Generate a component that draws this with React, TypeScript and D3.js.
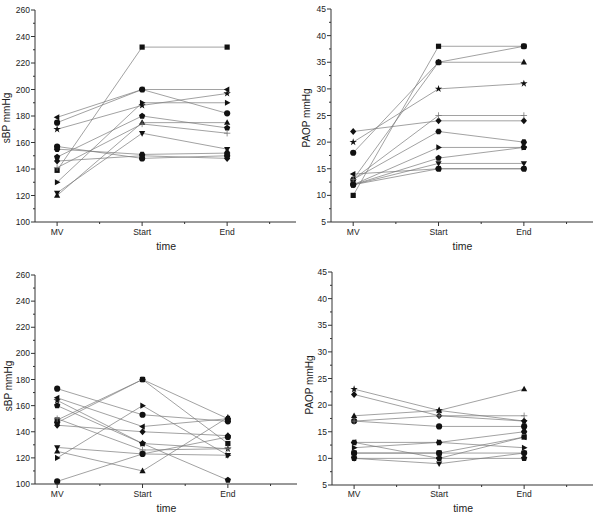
import React from "react";
import * as d3 from "d3";

// ---- data ----
const timeLabels = ["MV", "Start", "End"];
const markerShapes = ["square", "circle", "triUp", "triDown", "diamond", "triLeft", "triRight", "hexagon", "star", "pentagon", "plus", "circle"];

// top-left: sBP, group 1
const sbpGroup1 = [
  [139, 232, 232],
  [175, 200, 182],
  [120, 175, 175],
  [122, 167, 155],
  [146, 150, 148],
  [179, 200, 200],
  [130, 190, 190],
  [155, 151, 152],
  [170, 188, 197],
  [149, 180, 171],
  [141, 174, 167],
  [157, 148, 150],
];
// top-right: PAOP, group 1
const paopGroup1 = [
  [10, 38, 38],
  [18, 35, 38],
  [13, 35, 35],
  [12, 16, 16],
  [22, 24, 24],
  [14, 15, 15],
  [12, 19, 19],
  [13, 22, 20],
  [20, 30, 31],
  [12, 17, 19],
  [13, 25, 25],
  [12, 15, 15],
];
// bottom-left: sBP, group 2
const sbpGroup2 = [
  [149, 180, 131],
  [173, 153, 148],
  [125, 110, 151],
  [128, 123, 122],
  [145, 140, 137],
  [166, 144, 150],
  [120, 160, 122],
  [147, 180, 150],
  [164, 131, 127],
  [160, 131, 103],
  [150, 126, 127],
  [102, 123, 136],
];
// bottom-right: PAOP, group 2
const paopGroup2 = [
  [11, 11, 14],
  [17, 16, 16],
  [18, 19, 23],
  [10, 9, 11],
  [22, 18, 17],
  [13, 10, 14],
  [12, 13, 12],
  [13, 13, 15],
  [23, 19, 17],
  [10, 10, 10],
  [17, 18, 18],
  [11, 11, 11],
];

const sbpTicks = [100, 120, 140, 160, 180, 200, 220, 240, 260];
const paopTicks = [5, 10, 15, 20, 25, 30, 35, 40, 45];

const FONT = "Arial, 'Liberation Sans', Helvetica, sans-serif";

function polygon(n: number, r: number, rot: number) {
  const pts: string[] = [];
  for (let i = 0; i < n; i++) {
    const a = rot + (i * 2 * Math.PI) / n;
    pts.push(`${(r * Math.cos(a)).toFixed(2)},${(r * Math.sin(a)).toFixed(2)}`);
  }
  return "M" + pts.join("L") + "Z";
}

const shapePaths: Record<string, string> = {
  square: "M-2.6,-2.6H2.6V2.6H-2.6Z",
  circle: d3.symbol(d3.symbolCircle, 30)() as string,
  triUp: "M0,-3.4L3.1,2.2L-3.1,2.2Z",
  triDown: "M0,3.4L3.1,-2.2L-3.1,-2.2Z",
  diamond: "M0,-3.5L3.1,0L0,3.5L-3.1,0Z",
  triLeft: "M-3.4,0L2.2,-3.1L2.2,3.1Z",
  triRight: "M3.4,0L-2.2,-3.1L-2.2,3.1Z",
  hexagon: polygon(6, 3.2, 0),
  star: d3.symbol(d3.symbolStar, 17)() as string,
  pentagon: polygon(5, 3.3, -Math.PI / 2),
  plus: "M-3.2,0H3.2M0,-3.2V3.2",
};

type PanelProps = {
  data: number[][];
  yDomain: [number, number];
  yTicks: number[];
  yMinorStep: number;
  yLabel: string;
  x0: number;
  x1: number;
  yTop: number;
  yBottom: number;
  yLabelX: number;
  yLabelY: number;
  tickLabelY: number;
  titleY: number;
};

function Panel(p: PanelProps) {
  const x = d3.scaleLinear().domain([0.74, 3.81]).range([p.x0, p.x1]);
  const y = d3.scaleLinear().domain(p.yDomain).range([p.yBottom, p.yTop]);
  const minorY = d3.range(p.yDomain[0] + p.yMinorStep, p.yDomain[1], p.yMinorStep * 2);
  const minorX = [1.5, 2.5, 3.5];
  const line = d3
    .line<number>()
    .x((_, i) => x(i + 1))
    .y((d) => y(d));
  const axisColor = "#333";
  return (
    <g>
      {p.data.map((s, i) => (
        <path key={"l" + i} d={line(s) as string} fill="none" stroke="#7a7a7a" strokeWidth={0.7} />
      ))}
      {p.data.map((s, i) =>
        s.map((v, j) => {
          const shape = markerShapes[i];
          const isPlus = shape === "plus";
          return (
            <path
              key={`m${i}-${j}`}
              d={shapePaths[shape]}
              transform={`translate(${x(j + 1)},${y(v)})`}
              fill={isPlus ? "none" : "#111"}
              stroke={isPlus ? "#777" : "none"}
              strokeWidth={isPlus ? 0.8 : 0}
            />
          );
        })
      )}
      <line x1={p.x0} x2={p.x0} y1={p.yTop} y2={p.yBottom} stroke={axisColor} strokeWidth={1} />
      {p.yTicks.map((t) => (
        <g key={"yt" + t}>
          <line x1={p.x0 - 4} x2={p.x0} y1={y(t)} y2={y(t)} stroke={axisColor} strokeWidth={1} />
          <text x={p.x0 - 5} y={y(t) + 3} fontSize={8.5} textAnchor="end" fontFamily={FONT} fill="#222">
            {t}
          </text>
        </g>
      ))}
      {minorY.map((t) => (
        <line key={"ym" + t} x1={p.x0 - 2} x2={p.x0} y1={y(t)} y2={y(t)} stroke={axisColor} strokeWidth={1} />
      ))}
      <line x1={p.x0} x2={p.x1} y1={p.yBottom} y2={p.yBottom} stroke={axisColor} strokeWidth={1} />
      {timeLabels.map((lab, i) => (
        <g key={"xt" + lab}>
          <line x1={x(i + 1)} x2={x(i + 1)} y1={p.yBottom} y2={p.yBottom + 4} stroke={axisColor} strokeWidth={1} />
          <text x={x(i + 1)} y={p.tickLabelY} fontSize={8.5} textAnchor="middle" fontFamily={FONT} fill="#222">
            {lab}
          </text>
        </g>
      ))}
      {minorX.map((t) => (
        <line key={"xm" + t} x1={x(t)} x2={x(t)} y1={p.yBottom} y2={p.yBottom + 2} stroke={axisColor} strokeWidth={1} />
      ))}
      <text
        transform={`translate(${p.yLabelX},${p.yLabelY}) rotate(-90)`}
        fontSize={10}
        textAnchor="middle"
        fontFamily={FONT}
        fill="#222"
      >
        {p.yLabel}
      </text>
      <text x={(x(1) + x(3)) / 2 + 24} y={p.titleY} fontSize={10.5} textAnchor="middle" fontFamily={FONT} fill="#222">
        time
      </text>
    </g>
  );
}

export default function App() {
  return (
    <svg
      width={600}
      height={520}
      viewBox="0 0 600 520"
      style={{ position: "absolute", left: 0, top: 0, background: "#fff" }}
    >
      <rect x={0} y={0} width={600} height={520} fill="#fff" />
      <Panel
        data={sbpGroup1}
        yDomain={[100, 260]}
        yTicks={sbpTicks}
        yMinorStep={10}
        yLabel="sBP mmHg"
        x0={35}
        x1={296}
        yTop={10}
        yBottom={222}
        yLabelX={10}
        yLabelY={118}
        tickLabelY={235}
        titleY={250}
      />
      <Panel
        data={paopGroup1}
        yDomain={[5, 45]}
        yTicks={paopTicks}
        yMinorStep={2.5}
        yLabel="PAOP mmHg"
        x0={331}
        x1={593}
        yTop={9}
        yBottom={222}
        yLabelX={310}
        yLabelY={118}
        tickLabelY={235}
        titleY={250}
      />
      <Panel
        data={sbpGroup2}
        yDomain={[100, 260]}
        yTicks={sbpTicks}
        yMinorStep={10}
        yLabel="sBP mmHg"
        x0={35}
        x1={297}
        yTop={275}
        yBottom={484}
        yLabelX={12}
        yLabelY={386}
        tickLabelY={497}
        titleY={512}
      />
      <Panel
        data={paopGroup2}
        yDomain={[5, 45]}
        yTicks={paopTicks}
        yMinorStep={2.5}
        yLabel="PAOP mmHg"
        x0={332}
        x1={593}
        yTop={272}
        yBottom={485}
        yLabelX={313}
        yLabelY={385}
        tickLabelY={497}
        titleY={512}
      />
    </svg>
  );
}
